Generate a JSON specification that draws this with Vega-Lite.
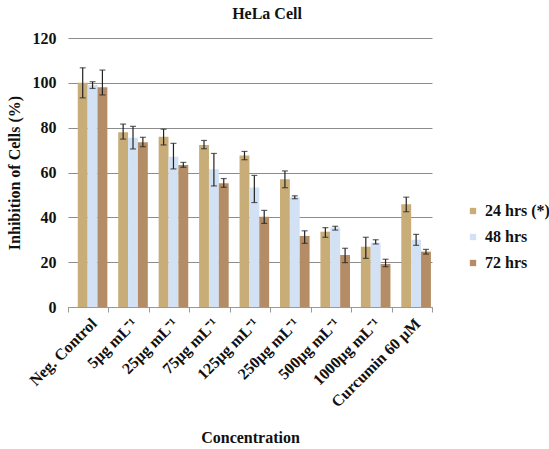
{
  "$schema": "https://vega.github.io/schema/vega-lite/v6.json",
  "width": 364,
  "height": 269,
  "autosize": {"type": "none"},
  "padding": {"left": 68, "top": 38, "right": 117, "bottom": 142},
  "background": "white",
  "title": {"text": "HeLa Cell", "font": "Liberation Serif", "fontSize": 16, "fontWeight": "bold", "color": "#111", "dx": 17, "offset": 8},
  "config": {
    "view": {"stroke": null},
    "font": "Liberation Serif"
  },
  "data": {"values": [
    {"conc": "Neg. Control", "series": "24 hrs (*)", "v": 100, "lo": 93.3, "hi": 106.7},
    {"conc": "Neg. Control", "series": "48 hrs", "v": 99, "lo": 97.5, "hi": 100.5},
    {"conc": "Neg. Control", "series": "72 hrs", "v": 98, "lo": 94.6, "hi": 105.7},
    {"conc": "5µg mL⁻¹", "series": "24 hrs (*)", "v": 78, "lo": 74.9, "hi": 81.6},
    {"conc": "5µg mL⁻¹", "series": "48 hrs", "v": 75.5, "lo": 70.5, "hi": 80.6},
    {"conc": "5µg mL⁻¹", "series": "72 hrs", "v": 73.5, "lo": 71.5, "hi": 75.7},
    {"conc": "25µg mL⁻¹", "series": "24 hrs (*)", "v": 76, "lo": 72.3, "hi": 79.3},
    {"conc": "25µg mL⁻¹", "series": "48 hrs", "v": 67, "lo": 61.6, "hi": 73},
    {"conc": "25µg mL⁻¹", "series": "72 hrs", "v": 63.3, "lo": 62.3, "hi": 64.5},
    {"conc": "75µg mL⁻¹", "series": "24 hrs (*)", "v": 72.3, "lo": 70.6, "hi": 74.3},
    {"conc": "75µg mL⁻¹", "series": "48 hrs", "v": 61.4, "lo": 54, "hi": 68.5},
    {"conc": "75µg mL⁻¹", "series": "72 hrs", "v": 55.2, "lo": 53.4, "hi": 57.3},
    {"conc": "125µg mL⁻¹", "series": "24 hrs (*)", "v": 67.6, "lo": 65.7, "hi": 69.4},
    {"conc": "125µg mL⁻¹", "series": "48 hrs", "v": 53.3, "lo": 46.6, "hi": 58.7},
    {"conc": "125µg mL⁻¹", "series": "72 hrs", "v": 40.3, "lo": 37.3, "hi": 43.1},
    {"conc": "250µg mL⁻¹", "series": "24 hrs (*)", "v": 57, "lo": 53.2, "hi": 60.7},
    {"conc": "250µg mL⁻¹", "series": "48 hrs", "v": 49, "lo": 48.3, "hi": 49.6},
    {"conc": "250µg mL⁻¹", "series": "72 hrs", "v": 31.7, "lo": 28.4, "hi": 34},
    {"conc": "500µg mL⁻¹", "series": "24 hrs (*)", "v": 33.6, "lo": 31.1, "hi": 35.4},
    {"conc": "500µg mL⁻¹", "series": "48 hrs", "v": 35.5, "lo": 34.3, "hi": 36},
    {"conc": "500µg mL⁻¹", "series": "72 hrs", "v": 23.2, "lo": 19.8, "hi": 26.2},
    {"conc": "1000µg mL⁻¹", "series": "24 hrs (*)", "v": 26.9, "lo": 21.7, "hi": 31.1},
    {"conc": "1000µg mL⁻¹", "series": "48 hrs", "v": 28.7, "lo": 28.1, "hi": 30},
    {"conc": "1000µg mL⁻¹", "series": "72 hrs", "v": 19.2, "lo": 18, "hi": 21.3},
    {"conc": "Curcumin 60 µM", "series": "24 hrs (*)", "v": 45.8, "lo": 42.5, "hi": 49},
    {"conc": "Curcumin 60 µM", "series": "48 hrs", "v": 30, "lo": 27.5, "hi": 32.4},
    {"conc": "Curcumin 60 µM", "series": "72 hrs", "v": 24.7, "lo": 23.6, "hi": 25.7}
  ]},
  "encoding": {
    "x": {
      "field": "conc", "type": "nominal", "sort": null,
      "scale": {"paddingInner": 0, "paddingOuter": 0},
      "axis": {
        "title": "Concentration", "titleFont": "Liberation Serif", "titleFontSize": 16, "titleFontWeight": "bold", "titleColor": "#111", "titlePadding": 20,
        "labelAngle": -45, "labelFont": "Liberation Serif", "labelFontSize": 16, "labelFontWeight": "bold", "labelColor": "#111", "labelPadding": 3,
        "tickBand": "extent", "tickSize": 5, "tickColor": "#999", "domainColor": "#999", "grid": false
      }
    },
    "xOffset": {"field": "series", "type": "nominal", "sort": ["24 hrs (*)", "48 hrs", "72 hrs"], "scale": {"paddingInner": 0, "paddingOuter": 0.55, "align": 0.9}}
  },
  "layer": [
    {
      "mark": {"type": "bar"},
      "encoding": {
        "y": {
          "field": "v", "type": "quantitative", "scale": {"domain": [0, 120]},
          "axis": {
            "title": "Inhibition of Cells (%)", "titleFont": "Liberation Serif", "titleFontSize": 16, "titleFontWeight": "bold", "titleColor": "#111", "titlePadding": 10,
            "values": [0, 20, 40, 60, 80, 100, 120], "labelFont": "Liberation Serif", "labelFontSize": 16, "labelFontWeight": "bold", "labelColor": "#111", "labelPadding": 12,
            "domain": false, "ticks": false, "grid": true, "gridColor": "#8c8c8c", "gridWidth": 1
          }
        },
        "color": {
          "field": "series", "type": "nominal",
          "scale": {"domain": ["24 hrs (*)", "48 hrs", "72 hrs"], "range": ["#c8ad78", "#d3e1f4", "#b48d66"]},
          "legend": {
            "title": null, "orient": "none", "legendX": 397, "legendY": 165,
            "symbolType": "square", "symbolSize": 40, "symbolStrokeWidth": 0,
            "labelFont": "Liberation Serif", "labelFontSize": 16, "labelFontWeight": "bold", "labelColor": "#111",
            "rowPadding": 10, "labelOffset": 4
          }
        }
      }
    },
    {
      "mark": {"type": "rule", "color": "#222", "strokeWidth": 1.2},
      "encoding": {
        "y": {"field": "lo", "type": "quantitative"},
        "y2": {"field": "hi"}
      }
    },
    {
      "mark": {"type": "tick", "color": "#222", "thickness": 1.2, "size": 6},
      "encoding": {"y": {"field": "lo", "type": "quantitative"}}
    },
    {
      "mark": {"type": "tick", "color": "#222", "thickness": 1.2, "size": 6},
      "encoding": {"y": {"field": "hi", "type": "quantitative"}}
    }
  ]
}
